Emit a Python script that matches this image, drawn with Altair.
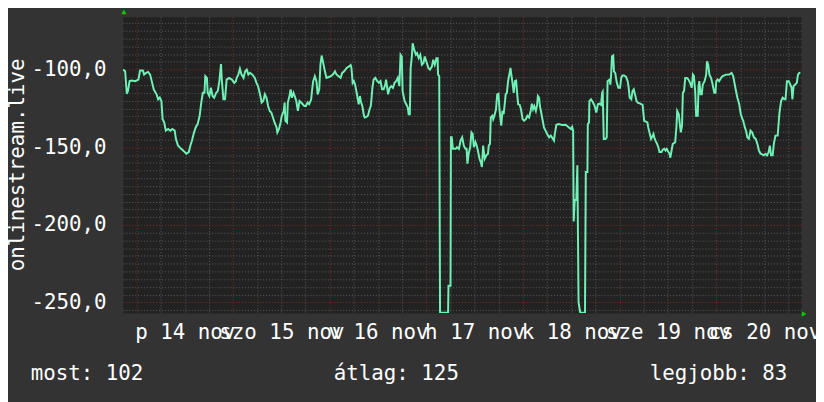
import json
import altair as alt
import pandas as pd

# ---- data (hours since 2014-11-14 00:00, value) ----
hours = [
    -3.3, -2.8, -2.4, -2.1, -1.7, -1.2, -0.3, 0.5, 0.9, 1.6, 1.9, 2.4, 2.9, 3.4, 3.8, 4.3, 5.0, 5.4, 5.8, 6.2,
    6.5, 6.9, 7.3, 7.9, 8.4, 8.9, 9.5, 9.8, 10.3, 10.7, 11.1, 11.6, 12.0, 12.4, 13.0, 13.4, 13.8, 14.2, 14.7, 15.2,
    15.7, 16.1, 16.5, 16.9, 17.1, 17.5, 17.7, 18.1, 18.5, 18.9, 19.3, 19.8, 20.2, 20.6, 21.0, 21.2, 21.6, 22.0, 22.4, 23.0,
    23.7, 24.3, 24.7, 24.9, 25.3, 25.7, 26.1, 26.6, 27.0, 27.4, 27.8, 28.2, 28.8, 29.4, 29.8, 30.2, 30.7, 31.1, 31.5, 31.9,
    32.3, 32.7, 33.1, 33.5, 33.9, 34.3, 34.8, 35.0, 35.4, 35.8, 36.1, 36.6, 36.8, 37.0, 37.4, 37.6, 38.0, 38.3, 38.6, 39.0,
    39.3, 39.7, 40.1, 40.5, 40.9, 41.3, 41.7, 42.1, 42.5, 42.9, 43.4, 43.6, 43.9, 44.3, 44.7, 45.0, 45.4, 45.7, 46.0, 46.4,
    46.8, 47.2, 47.6, 48.3, 48.8, 49.3, 49.7, 50.2, 50.7, 51.1, 51.6, 52.2, 52.8, 53.2, 53.4, 53.7, 54.0, 54.3, 54.7, 54.9,
    55.2, 55.5, 55.8, 56.1, 56.5, 56.7, 57.1, 57.5, 57.9, 58.2, 58.4, 58.6, 58.9, 59.3, 59.8, 60.2, 60.6, 61.0, 61.4, 61.8,
    62.0, 62.5, 62.9, 63.3, 63.7, 64.1, 64.5, 64.9, 65.3, 65.6, 65.9, 66.1, 66.6, 67.0, 67.4, 67.6, 67.9, 68.1, 68.4, 68.6,
    69.0, 69.4, 69.7, 70.1, 70.5, 70.9, 71.3, 71.6, 72.0, 72.5, 72.9, 73.4, 73.7, 74.1, 74.5, 74.8, 74.9, 75.2, 75.4, 77.4,
    77.5, 78.0, 78.1, 78.3, 78.6, 79.3, 79.6, 80.1, 80.5, 80.9, 81.3, 81.7, 82.0, 82.2, 82.5, 82.9, 83.2, 83.5, 83.8, 84.2,
    84.5, 84.8, 85.2, 85.5, 85.8, 86.1, 86.5, 86.9, 87.3, 87.5, 87.8, 88.0, 88.4, 88.6, 88.9, 89.3, 89.6, 89.9, 90.2, 90.6,
    90.9, 91.2, 91.5, 91.7, 92.0, 92.3, 92.6, 92.9, 93.1, 93.4, 93.7, 94.0, 94.3, 94.5, 94.8, 95.2, 95.5, 95.9, 96.3, 96.7,
    97.1, 97.5, 97.9, 98.2, 98.5, 98.8, 99.2, 99.5, 99.7, 100.0, 100.2, 100.6, 100.9, 101.2, 101.6, 102.0, 102.5, 102.9, 103.3, 103.7,
    103.9, 104.3, 104.9, 105.7, 106.6, 107.4, 107.9, 108.2, 108.45, 108.6, 108.85, 109.25, 109.5, 109.8, 110.2, 111.4, 111.6, 112.0, 112.1, 112.4,
    112.5, 112.9, 113.4, 113.8, 114.2, 114.6, 115.0, 115.4, 115.65, 115.8, 116.06, 116.5, 116.8, 117.0, 117.5, 117.7, 117.9, 118.1, 118.4, 118.6,
    118.9, 119.3, 119.7, 120.1, 120.4, 120.7, 121.1, 121.6, 122.0, 122.2, 122.5, 122.9, 123.2, 123.5, 123.8, 124.2, 124.5, 125.0, 125.7, 126.1,
    126.5, 126.9, 127.1, 127.5, 127.8, 128.1, 128.4, 128.6, 128.9, 129.3, 129.6, 129.9, 130.4, 130.7, 131.1, 131.4, 131.7, 132.0, 132.4, 132.6,
    132.9, 133.2, 133.5, 133.8, 134.1, 134.3, 134.7, 134.9, 135.2, 135.5, 135.7, 136.0, 136.3, 136.7, 137.1, 137.5, 137.9, 138.2, 138.45, 138.76,
    139.0, 139.4, 139.6, 139.8, 140.1, 140.4, 140.65, 141.1, 141.5, 141.7, 142.0, 142.3, 142.7, 143.1, 143.5, 143.8, 144.0, 144.3, 144.7, 145.2,
    145.6, 146.4, 147.2, 147.8, 148.2, 148.6, 148.9, 149.25, 149.7, 150.1, 150.5, 150.7, 151.1, 151.4, 151.7, 152.1, 152.5, 152.9, 153.35, 153.8,
    154.2, 154.6, 155.0, 155.4, 155.8, 156.2, 156.6, 157.0, 157.3, 157.6, 158.0, 158.3, 158.7, 159.25, 159.7, 160.1, 160.5, 160.9, 161.2, 161.55,
    162.0, 162.4, 162.7, 162.9, 163.2, 163.6, 164.0, 164.3, 164.6, 164.9,
]
values = [
    -100, -101, -115.5, -113.8, -107.4, -107, -107.4, -106.4, -100.6, -100.6, -103.2, -102.1, -101.5, -103.2, -107.4, -112.7, -115.9, -119.1, -118, -120.2,
    -131.9, -134, -139.3, -138.2, -139.3, -138.2, -139.3, -144.6, -148.9, -149.9, -151, -152.1, -153.1, -154.2, -153.1, -148.9, -145.7, -141.4, -137.2, -135.1,
    -129.7, -121.2, -114.9, -114.9, -104.2, -105.3, -114.9, -117, -111.7, -117, -118.1, -114.9, -113.8, -107.4, -96.4, -106.4, -119.1, -119.1, -106.4, -105.3,
    -106.4, -108.5, -107.4, -105.3, -103.2, -99.4, -103.2, -105.3, -101.1, -100, -103.2, -102.1, -103.2, -105.3, -108.5, -110.6, -115.9, -121.2, -120.2, -115.9,
    -118.1, -123.4, -126.6, -127.6, -130.8, -134, -137.2, -140.4, -138.2, -134, -129.7, -126.6, -121.2, -132.9, -134, -121.2, -117, -112.7, -118.1, -114.9,
    -117, -120.2, -126.6, -120.2, -121.2, -122.3, -123.4, -123.4, -121.2, -122.3, -119.1, -113.8, -107.4, -104.2, -107.4, -115.9, -112.7, -96.8, -90.9, -95.8,
    -101.1, -105.3, -104.9, -104.2, -103.2, -101.1, -103.2, -104.2, -105.3, -102.1, -101.1, -98.9, -97.9, -97, -98.9, -108.5, -107.4, -109.6, -114.9, -118.1,
    -122.3, -117, -121.2, -123.4, -129.7, -130.8, -130.4, -129.7, -125.5, -123.4, -118.1, -111.7, -106.4, -105.3, -107.4, -108.5, -107.4, -112.7, -112.7, -109.6,
    -106.4, -115.9, -111.7, -110.6, -111.7, -108.5, -107.4, -105.3, -110.6, -90.4, -91.5, -113.8, -120.2, -122.3, -124.4, -128.7, -128.7, -98.9, -91.5, -83,
    -87.3, -90.4, -89.4, -92.6, -90.4, -96.8, -95.8, -91.5, -94.7, -98.9, -100, -97.9, -93.6, -96.8, -92.6, -92.6, -103.2, -104.2, -256.5, -256.5,
    -239.2, -239.2, -143.6, -143.6, -151, -151, -149.9, -151, -145.7, -143.6, -148.9, -151, -151, -160.6, -154.2, -149.9, -140.4, -141.4, -149.9, -146.7,
    -148.9, -152.1, -157.4, -159.5, -162.7, -148.9, -157.4, -155.2, -154.2, -148.9, -147.8, -130.8, -129.7, -131.9, -129.7, -125.5, -115.9, -115.5, -126.6, -136.1,
    -126.6, -128.7, -121.2, -115.9, -114.9, -107.4, -103.2, -98.9, -103.2, -108.5, -114.9, -107.4, -107, -113.8, -122.3, -122.7, -125.5, -131.9, -132.9, -131.9,
    -129.7, -130.8, -126.6, -121.9, -125.5, -123.4, -126.6, -122.7, -117, -118.1, -123.4, -128.7, -132.9, -137.2, -139.3, -141.4, -143.6, -142.5, -144, -145.7,
    -141.4, -135.5, -135.1, -135.7, -135.5, -137.2, -138.2, -136.8, -139.3, -197.8, -184, -184, -161.6, -249.8, -256.5, -256.5, -165.9, -165.9, -135.1, -134,
    -120.2, -119.1, -121.2, -123.4, -127.6, -122.3, -121.9, -122.7, -114.9, -114.2, -144.6, -144.6, -143.6, -107.4, -106.4, -109.6, -103.2, -91.5, -90.9, -101.1,
    -102.1, -108.5, -111.7, -111.7, -105.3, -103.8, -103.8, -104.7, -107.4, -110.6, -118.1, -119.1, -113.8, -112.7, -115.9, -120.2, -121.2, -121.7, -122.7, -132.9,
    -133.4, -134, -137.2, -141.4, -144.6, -143.1, -141.4, -143.6, -145.7, -147.8, -149.9, -153.1, -153.1, -151.6, -151, -152.1, -151, -152.5, -154.2, -156.7,
    -152.1, -147.8, -147.4, -146.7, -137.2, -126.6, -128.7, -134, -140.4, -136.1, -114.9, -113.8, -105.3, -105.3, -106.4, -108.5, -111.7, -103.2, -104.2, -113.8,
    -129.7, -129.7, -110.6, -107.4, -115.9, -115.9, -109.6, -107.4, -103.2, -94.7, -96.8, -103.2, -105.3, -109.6, -114.9, -114.9, -107.4, -106.4, -107.4, -105.3,
    -104.2, -103.2, -103.2, -102.1, -104.2, -109.6, -113.8, -118.1, -122.3, -128.7, -131.9, -132.9, -137.2, -139.3, -143.6, -144.6, -139.3, -140.4, -143.6, -144.6,
    -147.8, -152.1, -154.2, -154.6, -155.2, -154.2, -155.2, -153.1, -148.9, -155.2, -155.2, -147.8, -142.5, -142.5, -127.6, -120.2, -118.1, -119.1, -119.1, -107.4,
    -107.4, -109.6, -111.7, -119.1, -110.6, -109.6, -108.5, -103.2, -102.1, -102,
]
day_labels = ["p 14 nov", "szo 15 nov", "v 16 nov", "h 17 nov", "k 18 nov", "sze 19 nov", "cs 20 nov"]
summary_names = ["most", "átlag", "legjobb"]
summary_values = [102, 125, 83]
y_title = "onlinestream.live"

df = pd.DataFrame({"t": hours, "v": values})

FONT = "DejaVu Sans Mono"
FS = 21
TXT = "#ffffff"
BG = "#333333"
CANVAS = "#222222"
LINE = "#6ff0b4"
GRID = "#5c5c5c"
MGRID = "#8a2e2e"
ARROW = "#00cc00"

x_ticks = list(range(0, 163, 6))
y_ticks = list(range(-255, -66, 5))

x_label_expr = (
    "datum.value % 24 == 12 ? " + json.dumps(day_labels) + "[floor(datum.value / 24)] : ''"
)
y_label_expr = (
    "datum.value % 50 == 0 ? '-' + replace(format(abs(datum.value), '.1f'), '.', ',') : ''"
)

x_axis = alt.Axis(
    values=x_ticks, labelExpr=x_label_expr, title=None,
    grid=True, gridColor={"condition": {"test": "datum.value % 24 == 0", "value": MGRID}, "value": GRID},
    gridDash=[1, 2], gridWidth=1, domain=False, ticks=True, tickSize=0,
    labelPadding=26, labelBaseline="alphabetic", labelFont=FONT, labelFontSize=FS,
    labelColor=TXT, labelOverlap=False, labelFlush=False, labelBound=False,
)
y_axis = alt.Axis(
    values=y_ticks, labelExpr=y_label_expr, title=y_title,
    grid=True, gridColor={"condition": {"test": "datum.value % 50 == 0", "value": MGRID}, "value": GRID},
    gridDash=[1, 2], gridWidth=1, domain=False, ticks=True, tickSize=0,
    labelPadding=17, labelFont=FONT, labelFontSize=FS, labelColor=TXT,
    labelOverlap=False, labelFlush=False, labelBound=False,
    titleFont=FONT, titleFontSize=FS, titleFontWeight="normal", titleColor=TXT,
    titleAngle=270, titleX=-100, titleY=149, titleAlign="center", titleBaseline="alphabetic",
)

x_scale = alt.Scale(domain=[-3.37, 165.08], nice=False, zero=False)
y_scale = alt.Scale(domain=[-256.7, -66.0], nice=False, zero=False)

line = alt.Chart(df).mark_line(color=LINE, strokeWidth=2, clip=True).encode(
    x=alt.X("t:Q", scale=x_scale, axis=x_axis),
    y=alt.Y("v:Q", scale=y_scale, axis=y_axis),
)

stat_x = [-93, 213, 532]
stats = []
for name, val, xp in zip(summary_names, summary_values, stat_x):
    stats.append(
        alt.Chart(pd.DataFrame({"s": [f"{name}: {val}"]}))
        .mark_text(align="left", baseline="alphabetic", font=FONT, fontSize=FS, color=TXT)
        .encode(x=alt.value(xp), y=alt.value(367), text="s:N")
    )

one = pd.DataFrame({"a": [0]})
arrow_up = alt.Chart(one).mark_point(shape="triangle-up", filled=True, color=ARROW, size=30, opacity=1).encode(
    x=alt.value(1), y=alt.value(-5))
arrow_right = alt.Chart(one).mark_point(shape="triangle-right", filled=True, color=ARROW, size=30, opacity=1).encode(
    x=alt.value(688), y=alt.value(300))

chart = alt.layer(line, *stats, arrow_up, arrow_right).properties(
    width=685, height=299,
    padding={"left": 116, "top": 7, "right": 15, "bottom": 88},
    autosize=alt.AutoSizeParams(type="none"),
    background=BG,
).configure_view(fill=CANVAS, stroke="transparent")

chart.save("out.html", embed_options={"renderer": "svg", "actions": False})
